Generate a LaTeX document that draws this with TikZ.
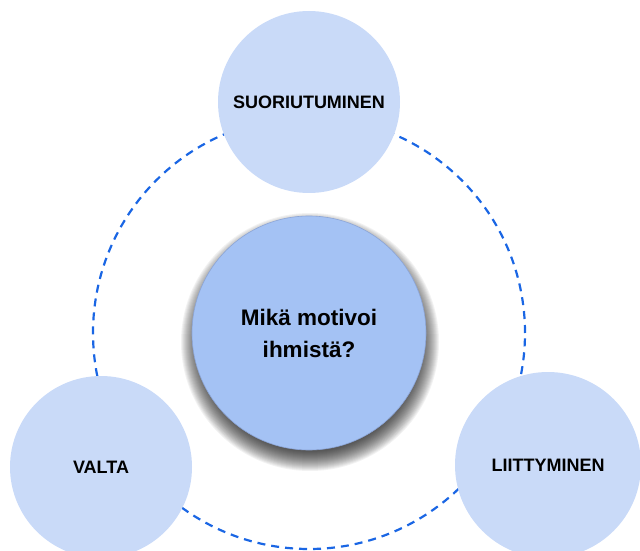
\documentclass[tikz,border=0pt]{standalone}
\usepackage{fontspec}
\setmainfont{Liberation Sans}
\usepackage{tikz}
\definecolor{ringblue}{RGB}{26,102,228}
\definecolor{outerfill}{RGB}{201,218,248}
\definecolor{corefill}{RGB}{164,194,244}
\definecolor{coreline}{RGB}{140,165,215}
\tikzset{
  need/.style={circle,fill=outerfill,inner sep=0pt,minimum size=182pt,font=\fontsize{18}{21}\selectfont\bfseries},
  core/.style={circle,fill=corefill,draw=coreline,line width=0.6pt,inner sep=0pt,minimum size=234pt,align=center,
    font=\fontsize{22.5}{32}\selectfont\bfseries},
  haze/.style={fill=black,fill opacity=0.05},
  ring/.style={draw=ringblue,line width=2.2pt,dash pattern=on 8pt off 6pt}
}
\begin{document}
\begin{tikzpicture}[x=1pt,y=1pt]
  \useasboundingbox (0,0) rectangle (640,550);
  \coordinate (o) at (309,217);
  % dashed ring behind the three needs
  \draw[ring] (o) circle (216);
  \node[need] (suor) at (309,448) {SUORIUTUMINEN};
  \node[need] (valta) at (101,83) {VALTA};
  \node[need,minimum size=186pt] (liit) at (548,85) {LIITTYMINEN};
  % soft shadow under the middle circle
  \foreach \r in {0,...,19}
    \fill[haze] ([shift={(1,-9)}]o) circle ({129-\r});
  \node[core] (mika) at (o) {Mikä motivoi\\ihmistä?};
\end{tikzpicture}
\end{document}
